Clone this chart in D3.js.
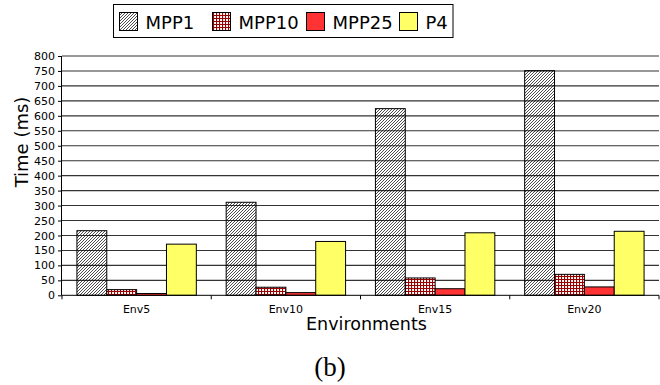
<!DOCTYPE html>
<html><head><meta charset="utf-8">
<script src="https://cdn.jsdelivr.net/npm/d3@7"></script>
<style>body{margin:0;background:#fff}svg{display:block}</style>
</head><body>
<svg id="c" width="660" height="385"></svg>
<script>
const categories = ["Env5", "Env10", "Env15", "Env20"];
const seriesNames = ["MPP1", "MPP10", "MPP25", "P4"];
const MPP1 = [216, 311, 624, 751];
const MPP10 = [19, 27, 58, 70];
const MPP25 = [6, 9, 22, 28];
const P4 = [171, 180, 209, 214];
const yTicks = [0,50,100,150,200,250,300,350,400,450,500,550,600,650,700,750,800];
const seriesValues = [MPP1, MPP10, MPP25, P4];

const svg = d3.select("#c");
const font = "DejaVu Sans, sans-serif";
const pL = 62, pR = 659, pT = 56, pB = 295.3;

const defs = svg.append("defs");
const ph = defs.append("pattern").attr("id","hatch").attr("patternUnits","userSpaceOnUse")
  .attr("width",3).attr("height",3);
ph.append("path").attr("d","M-1,1 l2,-2 M0,3 l3,-3 M2,4 l2,-2").attr("stroke","#000").attr("stroke-width",0.7);
const pg = defs.append("pattern").attr("id","grid").attr("patternUnits","userSpaceOnUse")
  .attr("width",3).attr("height",3);
pg.append("rect").attr("width",3).attr("height",3).attr("fill","#fff");
pg.append("path").attr("d","M0,0.5 H3 M0.5,0 V3").attr("stroke","#990000").attr("stroke-width",1.2);

const fills = {MPP1:"url(#hatch)", MPP10:"url(#grid)", MPP25:"#ff3333", P4:"#ffff66"};

const y = d3.scaleLinear().domain([0,800]).range([pB, pT]);
const x0 = d3.scaleBand().domain(categories).range([pL, pR]).padding(0);
const x1 = d3.scaleBand().domain(seriesNames).range([0, x0.bandwidth()]).paddingInner(0).paddingOuter(0.5);

// gridlines
svg.append("g").selectAll("line").data(yTicks.filter(d=>d>0)).join("line")
  .attr("x1", pL).attr("x2", pR).attr("y1", d=>y(d)).attr("y2", d=>y(d))
  .attr("stroke","#333").attr("stroke-width",1.1);

// bars
const g = svg.append("g");
categories.forEach((c,i)=>{
  seriesNames.forEach((s,j)=>{
    const v = seriesValues[j][i];
    g.append("rect")
      .attr("x", x0(c)+x1(s)).attr("y", y(v))
      .attr("width", x1.bandwidth()).attr("height", y(0)-y(v))
      .attr("fill", fills[s]).attr("stroke","#000").attr("stroke-width",1);
  });
});

// y axis
const ya = svg.append("g").attr("transform",`translate(${pL},0)`)
  .call(d3.axisLeft(y).tickValues(yTicks).tickSize(4).tickPadding(3).tickFormat(d3.format("d")));
ya.select(".domain").attr("d",`M-0.5,${pT}V${pB}`).attr("stroke","#000");
ya.selectAll("text").attr("font-family",font).attr("font-size",11).attr("fill","#000");
ya.selectAll(".tick line").attr("stroke","#000");

// x axis
const xa = svg.append("g").attr("transform",`translate(0,${pB})`);
xa.append("line").attr("x1",pL).attr("x2",pR).attr("y1",0).attr("y2",0).attr("stroke","#000");
xa.selectAll("line.t").data(categories.map(c=>x0(c)).concat([pR])).join("line").attr("class","t")
  .attr("x1",d=>d).attr("x2",d=>d).attr("y1",0).attr("y2",4).attr("stroke","#000");
xa.selectAll("text").data(categories).join("text")
  .attr("x", d=>x0(d)+x0.bandwidth()/2).attr("y", 18)
  .attr("text-anchor","middle").attr("font-family",font).attr("font-size",11).text(d=>d);

// axis titles
svg.append("text").attr("x",(pL+pR)/2+6).attr("y",330).attr("text-anchor","middle")
  .attr("font-family",font).attr("font-size",17.5).text("Environments");
svg.append("text").attr("transform","translate(28,142) rotate(-90)").attr("text-anchor","middle")
  .attr("font-family",font).attr("font-size",18).text("Time (ms)");

// caption
svg.append("text").attr("x",330).attr("y",376).attr("text-anchor","middle")
  .attr("font-family","Liberation Serif, Times New Roman, serif").attr("font-size",27).text("(b)");

// legend
svg.append("rect").attr("x",113.5).attr("y",4.5).attr("width",339.5).attr("height",33)
  .attr("fill","#fff").attr("stroke","#000").attr("stroke-width",1);
const legX = [119.5, 212.5, 306.5, 399.5];
seriesNames.forEach((s,j)=>{
  svg.append("rect").attr("x",legX[j]).attr("y",12.5).attr("width",18).attr("height",18)
    .attr("fill",fills[s]).attr("stroke","#000").attr("stroke-width",1);
  svg.append("text").attr("x",legX[j]+26).attr("y",28.5).attr("font-family",font)
    .attr("font-size",18).text(s);
});
</script>
</body></html>
